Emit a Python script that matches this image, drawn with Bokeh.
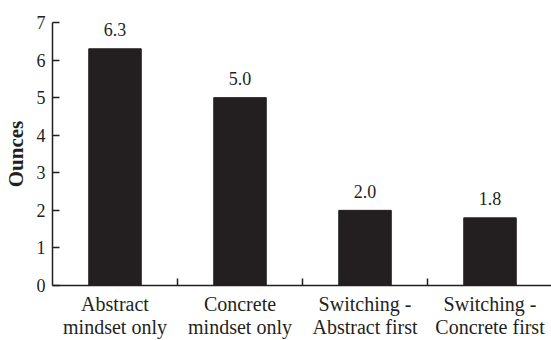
from bokeh.plotting import figure
from bokeh.models import Range1d, FixedTicker, ColumnDataSource
from bokeh.core.properties import value
from bokeh.embed import file_html
from bokeh.resources import INLINE

# Mean amount consumed per condition
categories = ["Abstract\nmindset only", "Concrete\nmindset only",
              "Switching -\nAbstract first", "Switching -\nConcrete first"]
ounces = [6.3, 5.0, 2.0, 1.8]
y_ticks = [0, 1, 2, 3, 4, 5, 6, 7]

INK = "#231f20"
SERIF = "'Liberation Serif', 'DejaVu Serif', serif"

# one unit per category; bars sit at the centre of each slot
centers = [i + 0.5 for i in range(len(categories))]
boundaries = [i for i in range(1, len(categories))]

p = figure(width=551, height=340, output_backend="svg", toolbar_location=None,
           x_range=Range1d(0, 3.992), y_range=Range1d(0, 7),
           min_border_left=52, min_border_right=0,
           min_border_top=22, min_border_bottom=53)
p.outline_line_color = None
p.background_fill_color = "white"
p.border_fill_color = "white"
p.grid.visible = False

src = ColumnDataSource(dict(x=centers, top=ounces,
                            label=[f"{v:.1f}" for v in ounces]))
p.vbar(x="x", top="top", bottom=0, width=0.42, source=src,
       fill_color=INK, line_color=INK, line_width=1)
p.text(x="x", y="top", text="label", source=src,
       text_font=value(SERIF), text_font_size="18px", text_color=INK,
       text_align="center", text_baseline="alphabetic", y_offset=-19)

# x axis: labels under each bar, small inward ticks between categories
xa = p.xaxis[0]
xa.ticker = FixedTicker(ticks=centers, minor_ticks=boundaries)
xa.major_label_overrides = {c: lab for c, lab in zip(centers, categories)}
xa.major_tick_line_color = None
xa.major_tick_in = 0
xa.major_tick_out = 0
xa.minor_tick_in = 7
xa.minor_tick_out = 0
xa.minor_tick_line_color = INK
xa.minor_tick_line_width = 1.5
xa.axis_line_color = INK
xa.axis_line_width = 1.5
xa.major_label_standoff = 7
xa.major_label_text_font = SERIF
xa.major_label_text_font_size = "20px"
xa.major_label_text_color = INK
xa.major_label_text_line_height = 1.05

# y axis
ya = p.yaxis[0]
ya.ticker = FixedTicker(ticks=y_ticks)
ya.minor_tick_line_color = None
ya.major_tick_in = 7
ya.major_tick_out = 0
ya.major_tick_line_color = INK
ya.major_tick_line_width = 1.5
ya.axis_line_color = INK
ya.axis_line_width = 1.5
ya.major_label_standoff = 7
ya.major_label_text_font = SERIF
ya.major_label_text_font_size = "18px"
ya.major_label_text_color = INK
ya.axis_label = "Ounces"
ya.axis_label_text_font = SERIF
ya.axis_label_text_font_style = "bold"
ya.axis_label_text_font_size = "21px"
ya.axis_label_text_color = INK
ya.axis_label_standoff = 6

open("out.html", "w").write(file_html(p, INLINE))
